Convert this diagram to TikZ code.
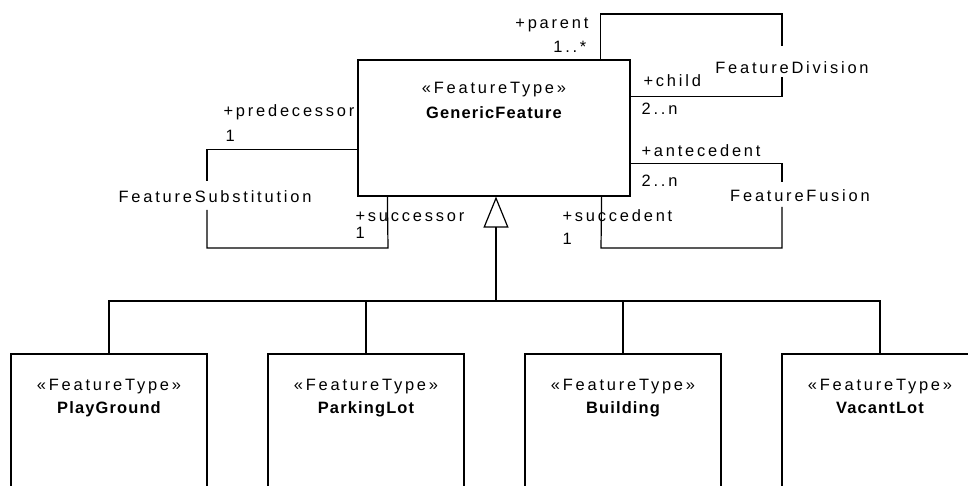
\documentclass[tikz,border=0pt]{standalone}
\usepackage{fontspec}
\setmainfont{Liberation Sans}[LetterSpace=17]
\newfontfamily\bfam{Liberation Sans}[LetterSpace=7]
\usetikzlibrary{arrows.meta,calc}
\begin{document}
\begin{tikzpicture}[x=1bp,y=-1bp,line width=1.2bp,
  cls/.style={draw,minimum width=196bp,minimum height=160bp,inner sep=0},
  txt/.style={font=\fontsize{16.5}{19}\selectfont,inner sep=0},
  bname/.style={font=\fontsize{16.5}{19}\selectfont\bfam\bfseries,inner sep=0},
  assoc/.style={draw},
  gen/.style={-{Triangle[open,length=31bp,width=25bp]}}]
\useasboundingbox (0,0) rectangle (968,486);
\clip (0,0) rectangle (968,486);
% classes
\node[cls,minimum width=272bp,minimum height=136bp] (gf) at (494,128) {};
\node[txt,anchor=base] (gfs) at (494,94) {«FeatureType»};
\node[bname,anchor=base] (gfn) at (494,119) {GenericFeature};
\foreach \n/\x/\t in {pg/109/PlayGround,pl/366/ParkingLot,bu/623/Building,vl/880/VacantLot}{
  \node[cls] (\n) at (\x,434) {};
  \node[txt,anchor=base] (\n s) at (\x,390) {«FeatureType»};
  \node[bname,anchor=base] (\n n) at (\x,413) {\t};
}
% generalization
\coordinate (hub) at (496,301);
\draw (pg.north) |- (hub);
\draw (pl.north) |- (hub);
\draw (bu.north) |- (hub);
\draw (vl.north) |- (hub);
\draw[gen] (hub) -- ($(gf.south)+(2,0)$);
% FeatureDivision
\coordinate (fdA) at (782,46);
\coordinate (fdB) at (782,77);
\draw[assoc] ($(gf.north east)+(-30,0)$) |- (782,14) -- (fdA);
\draw[assoc] (fdB) |- ($(gf.north east)+(0,37)$);
\node[txt,anchor=base] (fd) at (792,74) {FeatureDivision};
\node[txt,anchor=base east] (lpar) at (589,29) {+parent};
\node[txt,anchor=base east] (mpar) at (587,53) {1..*};
\node[txt,anchor=base west] (lchi) at (643,87) {+child};
\node[txt,anchor=base west] (mchi) at (641,115) {2..n};
% FeatureSubstitution
\coordinate (fsA) at (207,181);
\coordinate (fsB) at (207,210);
\draw[assoc] ($(gf.north west)+(0,90)$) -| (fsA);
\draw[assoc] (fsB) |- (388,248) -- ($(gf.south west)+(30,0)$);
\node[txt,anchor=base] (fs) at (215,203) {FeatureSubstitution};
\node[txt,anchor=base west] (lpre) at (223,117) {+predecessor};
\node[txt,anchor=base west] (mpre) at (225,142) {1};
\node[txt,anchor=base west] (lsuc) at (355,222) {+successor};
\node[txt,anchor=base west] (msuc) at (355,239) {1};
% FeatureFusion
\coordinate (ffA) at (782,182);
\coordinate (ffB) at (782,207);
\draw[assoc] ($(gf.north east)+(0,104)$) -| (ffA);
\draw[assoc] (ffB) |- (601,248) -- ($(gf.south east)+(-29,0)$);
\node[txt,anchor=base] (ff) at (800,202) {FeatureFusion};
\node[txt,anchor=base west] (lant) at (641,157) {+antecedent};
\node[txt,anchor=base west] (mant) at (641,187) {2..n};
\node[txt,anchor=base west] (lsud) at (562,222) {+succedent};
\node[txt,anchor=base west] (msud) at (562,245) {1};
\end{tikzpicture}
\end{document}
